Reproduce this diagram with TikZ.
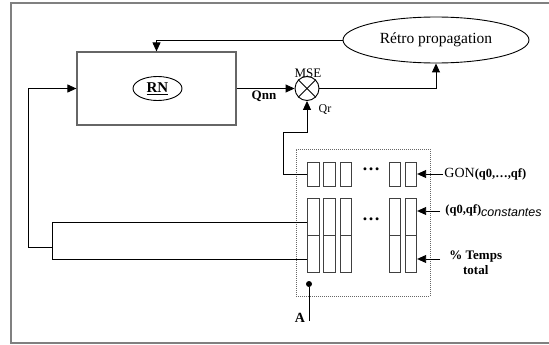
\documentclass[tikz,border=0pt]{standalone}
\usepackage{fontspec}
\setmainfont{Liberation Serif}
\newfontfamily\arialfont{Liberation Sans}
\usetikzlibrary{arrows.meta,shapes.geometric}

\begin{document}
\begin{tikzpicture}[x=1pt, y=-1pt,
      line width=0.9pt,
      arr/.style={-{Triangle[length=9pt,width=8pt]}},
      cell/.style={draw=black!75, line width=0.8pt, minimum width=11.5pt, inner sep=0pt},
      lbl/.style={inner sep=1pt, font=\fontsize{13}{15}\selectfont}]
    \useasboundingbox (0,0) rectangle (549,345);
    % frame
    \draw[black!50, line width=1.5pt] (549,3) -- (11,3) -- (11,343) -- (549,343);
    % network, error, back-propagation
    \node[draw=black!60, line width=1.2pt, minimum width=159pt, minimum height=73pt, inner sep=0pt] (rn) at (156.5,88.5) {};
    \node[draw, ellipse, minimum width=49pt, minimum height=24pt, inner sep=0pt, font=\fontsize{15}{15}\selectfont\bfseries] (rnlbl) at (157.5,88.5) {\underline{RN}};
    \node[draw, ellipse, minimum width=186pt, minimum height=46pt, inner sep=0pt, font=\fontsize{15.5}{16}\selectfont] (retro) at (436,40) {Rétro propagation};
    \node[draw, circle, minimum size=24pt, inner sep=0pt] (mse) at (307,88.5) {};
    \draw (mse.north west) -- (mse.south east);
    \draw (mse.north east) -- (mse.south west);
    \node[lbl] (mselbl) at (308,73) {MSE};
    \node[lbl, font=\fontsize{13}{15}\selectfont\bfseries] (qnn) at (264,96) {Qnn};
    \node[lbl, font=\fontsize{12}{14}\selectfont] (qr) at (325,110) {Qr};
    % register block
    \node[draw=black!60, dash pattern=on 1pt off 1pt, line width=0.7pt, minimum width=134pt, minimum height=147pt, inner sep=0pt] (reg) at (363,222.5) {};
    \foreach \i/\x in {1/313.5,2/329.5,3/346,4/395,5/411} {
      \node[cell, minimum height=24pt] (top\i) at (\x,174) {};
      \node[cell, minimum height=37pt] (up\i) at (\x,216.5) {};
      \node[cell, minimum height=37pt] (lo\i) at (\x,253.5) {};
    }
    \node[inner sep=0pt, font=\fontsize{18}{18}\selectfont\bfseries] (dots1) at (371,169) {…};
    \node[inner sep=0pt, font=\fontsize{18}{18}\selectfont\bfseries] (dots2) at (371,219) {…};
    % inputs
    \node[lbl, anchor=west, font=\fontsize{12.5}{15}\selectfont] (gon) at (443,174) {{\fontsize{14}{14}\selectfont GON}{\bfseries(q0,…,qf)}};
    \node[lbl, anchor=west, inner xsep=5pt, font=\fontsize{12.5}{15}\selectfont] (cst) at (440,211) {\bfseries(q0,qf)\raisebox{-3pt}{\arialfont\itshape\mdseries constantes}};
    \node[lbl, anchor=west, align=center, inner xsep=9pt, font=\fontsize{13}{15}\selectfont\bfseries] (tps) at (440,263) {\% Temps\\total};
    \coordinate (tpsin) at (440,259);
    \draw[arr] (gon.west) -- (top5.east);
    \draw[arr] (cst.west) -- (cst.west -| up5.east);
    \draw[arr] (tpsin) -- (tpsin -| lo5.east);
    % point A
    \node[circle, fill, inner sep=0pt, minimum size=6pt] (dota) at (309,284) {};
    \node[lbl, font=\fontsize{14}{15}\selectfont\bfseries] (alb) at (300,318) {A};
    \coordinate (aend) at (309,321);
    \draw (dota) -- (aend);
    % connections
    \coordinate (ja) at (52,222);
    \coordinate (jb) at (52,259);
    \coordinate (jm) at (52,247);
    \coordinate (lp) at (28,247);
    \coordinate (qa) at (283,132);
    \draw (ja -| up1.west) -- (ja) -- (jb) -- (jb -| lo1.west);
    \draw[arr] (jm) -- (lp) |- (rn.west);
    \draw[arr] (rn.east) -- (mse.west);
    \draw[arr] (retro.west) -| (rn.north);
    \draw[arr] (mse.east) -| (retro.south);
    \draw[arr] (top1.west) -| (qa) -| (mse.south);
  \end{tikzpicture}
\end{document}
